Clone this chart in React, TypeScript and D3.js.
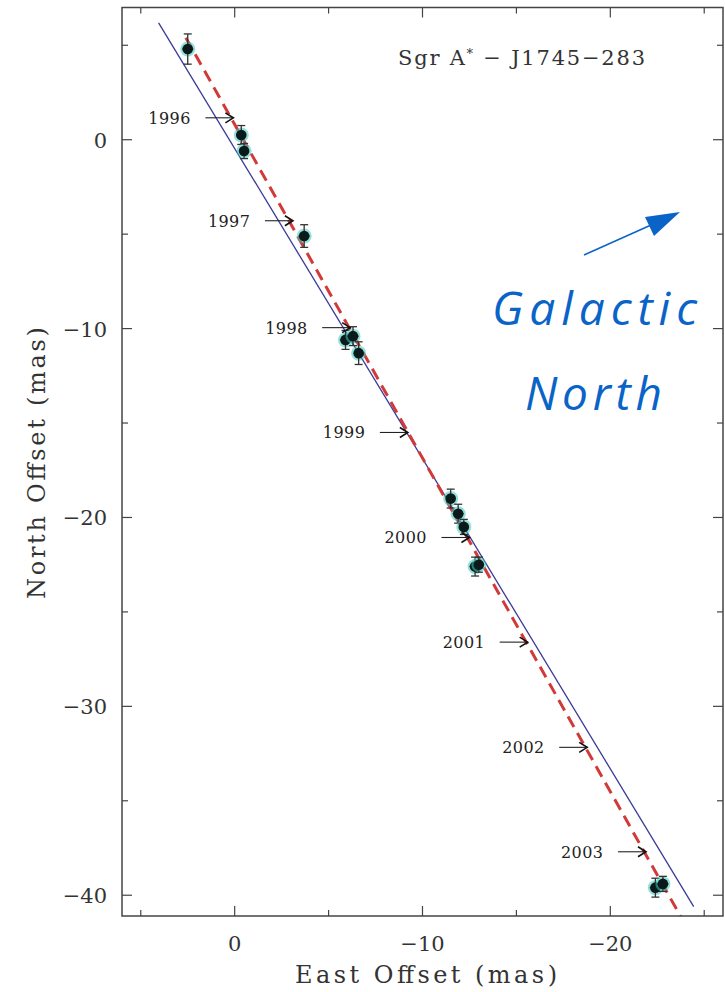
import React from "react";
import * as d3 from "d3";

// ---- data ----
const pointsX = [2.5, -0.35, -0.5, -3.7, -5.9, -6.3, -6.6, -11.5, -11.9, -12.2, -12.8, -13.0, -22.4, -22.8];
const pointsY = [4.8, 0.25, -0.6, -5.1, -10.6, -10.4, -11.3, -19.0, -19.8, -20.5, -22.6, -22.5, -39.6, -39.4];
const errX = [0.3, 0.2, 0.2, 0.3, 0.3, 0.3, 0.2, 0.2, 0.3, 0.2, 0.3, 0.2, 0.3, 0.3];
const errY = [0.8, 0.5, 0.4, 0.6, 0.5, 0.5, 0.6, 0.5, 0.5, 0.4, 0.5, 0.4, 0.5, 0.4];

const blueLine: [number, number][] = [[4.05, 6.19], [-24.44, -40.6]];
const redLine: [number, number][] = [[2.6, 5.4], [-23.9, -41.4]];

const years = ["1996", "1997", "1998", "1999", "2000", "2001", "2002", "2003"];
const yearTipX = [0.07, -3.1, -6.15, -9.22, -12.5, -15.6, -18.77, -21.9];
const yearTipY = [1.16, -4.29, -9.95, -15.5, -21.06, -26.6, -32.17, -37.7];

const xTicks = [5, 0, -5, -10, -15, -20, -25];
const yTicks = [5, 0, -5, -10, -15, -20, -25, -30, -35, -40];
const labelledTicks = [0, -10, -20, -30, -40];

const title = "Sgr A";
const titleRest = " \u2212 J1745\u2212283";
const xLabel = "East Offset (mas)";
const yLabel = "North Offset (mas)";

const fmt = (v: number) => (v < 0 ? "\u2212" + Math.abs(v) : String(v));

export default function App() {
  const W = 725, H = 992;
  const left = 122, right = 723, top = 7.5, bottom = 916;
  const x = d3.scaleLinear().domain([6, -26]).range([left, right]);
  const y = d3.scaleLinear().domain([7, -41.1]).range([top, bottom]);
  const line = d3.line<[number, number]>().x(d => x(d[0])).y(d => y(d[1]));
  const frame = "#444";
  const serif = "'DejaVu Serif', serif";

  return (
    <div>
      <style>{"body{margin:0}"}</style>
      <svg width={W} height={H} style={{ display: "block", background: "#fff" }}>
        <defs>
          <clipPath id="plotclip">
            <rect x={left} y={top} width={right - left} height={bottom - top} />
          </clipPath>
        </defs>

        {/* lines */}
        <g clipPath="url(#plotclip)">
          <path d={line(blueLine) || ""} stroke="#3a3a9a" strokeWidth={1.3} fill="none" />
          <path d={line(redLine) || ""} stroke="#d23a3a" strokeWidth={3} strokeDasharray="12,7" fill="none" />
        </g>

        {/* data points */}
        {pointsX.map((px, i) => {
          const cx = x(px), cy = y(pointsY[i]);
          const y0 = y(pointsY[i] + errY[i]), y1 = y(pointsY[i] - errY[i]);
          const x0 = x(px + errX[i]), x1 = x(px - errX[i]);
          return (
            <g key={i}>
              <circle cx={cx} cy={cy} r={7.5} fill="#3cc8c0" opacity={0.55} />
              <line x1={cx} x2={cx} y1={y0} y2={y1} stroke="#333" strokeWidth={1.3} />
              <line x1={cx - 4} x2={cx + 4} y1={y0} y2={y0} stroke="#333" strokeWidth={1.3} />
              <line x1={cx - 4} x2={cx + 4} y1={y1} y2={y1} stroke="#333" strokeWidth={1.3} />
              <line x1={x0} x2={x1} y1={cy} y2={cy} stroke="#333" strokeWidth={1.3} />
              <circle cx={cx} cy={cy} r={5.3} fill="#0a1a1a" />
            </g>
          );
        })}

        {/* year arrows */}
        {years.map((yr, i) => {
          const tx = x(yearTipX[i]), ty = y(yearTipY[i]);
          return (
            <g key={yr}>
              <line x1={tx - 28} x2={tx} y1={ty} y2={ty} stroke="#222" strokeWidth={1.1} />
              <path d={`M${tx - 8},${ty - 5} L${tx},${ty} L${tx - 8},${ty + 5}`} stroke="#111" strokeWidth={1.6} fill="none" />
              <text x={tx - 43} y={ty + 6} textAnchor="end" fontFamily={serif} fontSize={16} fill="#222"
                textLength={42} lengthAdjust="spacing">{yr}</text>
            </g>
          );
        })}

        {/* frame */}
        <rect x={left} y={top} width={right - left} height={bottom - top} fill="none" stroke={frame} strokeWidth={1.5} />

        {/* x ticks */}
        {xTicks.map(t => {
          const len = labelledTicks.includes(t) ? 10 : 6;
          return (
            <g key={"x" + t}>
              <line x1={x(t)} x2={x(t)} y1={bottom} y2={bottom - len} stroke={frame} strokeWidth={1.2} />
              <line x1={x(t)} x2={x(t)} y1={top} y2={top + len} stroke={frame} strokeWidth={1.2} />
              {labelledTicks.includes(t) && (
                <text x={x(t)} y={951} textAnchor="middle" fontFamily={serif} fontSize={21} fill="#333">{fmt(t)}</text>
              )}
            </g>
          );
        })}

        {/* y ticks */}
        {yTicks.map(t => {
          const len = labelledTicks.includes(t) ? 10 : 6;
          return (
            <g key={"y" + t}>
              <line x1={left} x2={left + len} y1={y(t)} y2={y(t)} stroke={frame} strokeWidth={1.2} />
              <line x1={right} x2={right - len} y1={y(t)} y2={y(t)} stroke={frame} strokeWidth={1.2} />
              {labelledTicks.includes(t) && (
                <text x={107} y={y(t) + 8} textAnchor="end" fontFamily={serif} fontSize={21} fill="#333">{fmt(t)}</text>
              )}
            </g>
          );
        })}

        {/* axis labels */}
        <text x={426} y={983} textAnchor="middle" fontFamily={serif} fontSize={24} fill="#333"
          textLength={262} lengthAdjust="spacing">{xLabel}</text>
        <text transform="translate(45,463) rotate(-90)" textAnchor="middle" fontFamily={serif} fontSize={24} fill="#333"
          textLength={272} lengthAdjust="spacing">{yLabel}</text>

        {/* title */}
        <text x={398} y={65} fontFamily={serif} fontSize={21} fill="#333" textLength={247} lengthAdjust="spacing">
          {title}
          <tspan dy={-7} fontSize={13}>*</tspan>
          <tspan dy={7}>{titleRest}</tspan>
        </text>

        {/* Galactic North annotation */}
        <line x1={584} y1={255} x2={660} y2={221} stroke="#0a64c8" strokeWidth={1.5} />
        <path d="M680,212 L645,217 L654,236 Z" fill="#0a64c8" />
        <text x={492} y={325} fontFamily="'Open Sans', sans-serif" fontStyle="italic" fontSize={46} fill="#0a64c8"
          textLength={205} lengthAdjust="spacing">Galactic</text>
        <text x={525} y={410} fontFamily="'Open Sans', sans-serif" fontStyle="italic" fontSize={46} fill="#0a64c8"
          textLength={137} lengthAdjust="spacing">North</text>
      </svg>
    </div>
  );
}
